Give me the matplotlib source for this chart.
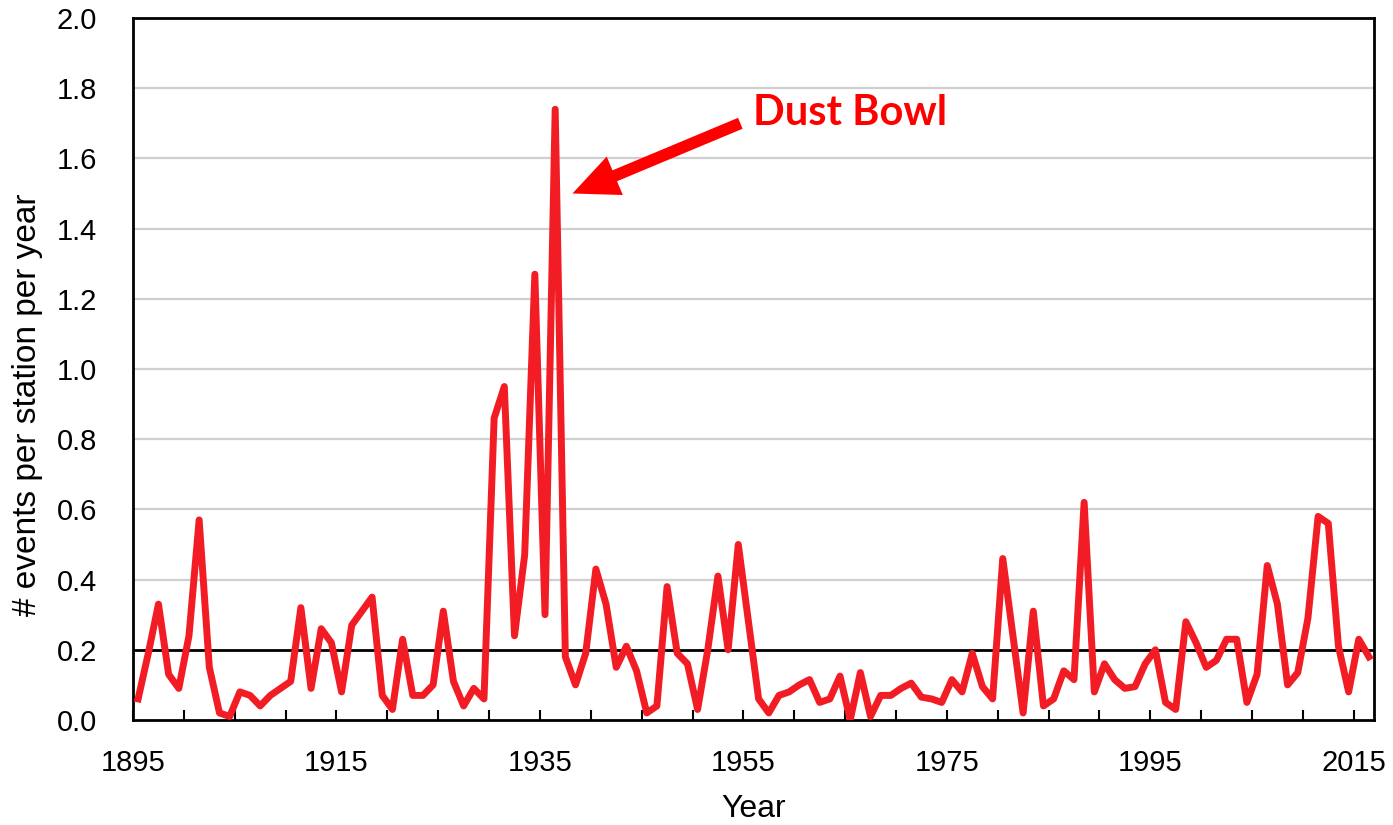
import matplotlib.pyplot as plt

years = list(range(1895, 2017))
events = [
    0.06, 0.19, 0.33, 0.13, 0.09, 0.24, 0.57, 0.15, 0.02, 0.01,   # 1895-1904
    0.08, 0.07, 0.04, 0.07, 0.09, 0.11, 0.32, 0.09, 0.26, 0.22,   # 1905-1914
    0.08, 0.27, 0.31, 0.35, 0.07, 0.03, 0.23, 0.07, 0.07, 0.10,   # 1915-1924
    0.31, 0.11, 0.04, 0.09, 0.06, 0.86, 0.95, 0.24, 0.47, 1.27,   # 1925-1934
    0.30, 1.74, 0.18, 0.10, 0.19, 0.43, 0.33, 0.15, 0.21, 0.14,   # 1935-1944
    0.02, 0.04, 0.38, 0.19, 0.16, 0.03, 0.20, 0.41, 0.20, 0.50,   # 1945-1954
    0.28, 0.06, 0.02, 0.07, 0.08, 0.10, 0.115, 0.05, 0.06, 0.125, # 1955-1964
    0.00, 0.135, 0.01, 0.07, 0.07, 0.09, 0.105, 0.065, 0.06, 0.05, # 1965-1974
    0.115, 0.08, 0.19, 0.095, 0.06, 0.46, 0.24, 0.02, 0.31, 0.04, # 1975-1984
    0.06, 0.14, 0.115, 0.62, 0.08, 0.16, 0.115, 0.09, 0.095, 0.16, # 1985-1994
    0.20, 0.05, 0.03, 0.28, 0.22, 0.15, 0.17, 0.23, 0.23, 0.05,   # 1995-2004
    0.13, 0.44, 0.33, 0.10, 0.135, 0.29, 0.58, 0.56, 0.21, 0.08,  # 2005-2014
    0.23, 0.18,                                                   # 2015-2016
]
label_years = [1895, 1915, 1935, 1955, 1975, 1995, 2015]
threshold = 0.2

plt.rcParams['font.family'] = ['Liberation Sans', 'DejaVu Sans']

fig = plt.figure(figsize=(13.93, 8.25), dpi=100)
ax = fig.add_axes([0.0955, 0.1273, 0.8909, 0.8509])

# points sit in the middle of each year
x = [y + 0.5 for y in years]

for v in [0.4, 0.6, 0.8, 1.0, 1.2, 1.4, 1.6, 1.8]:
    ax.axhline(v, color='#cfcfcf', lw=1.6, zorder=1)
ax.axhline(threshold, color='black', lw=2.0, zorder=2)

ax.plot(x, events, color='#f21d24', lw=5.0, solid_joinstyle='round', zorder=3)

ax.set_xlim(1895, 2017)
ax.set_ylim(0, 2.0)
ax.set_yticks([i / 10 for i in range(0, 21, 2)])
ax.set_yticklabels([f'{i / 10:.1f}' for i in range(0, 21, 2)])
ax.set_xticks(label_years)
ax.set_xticks(range(1895, 2017, 5), minor=True)

ax.tick_params(axis='y', length=0, pad=26, labelsize=21)
ax.tick_params(axis='x', which='both', direction='in', length=7, width=1.5,
               pad=21, labelsize=21)

for s in ax.spines.values():
    s.set_linewidth(2.0)
    s.set_color('black')

ax.set_xlabel('Year', fontsize=23)
ax.xaxis.set_label_coords(0.5, -0.105)
ax.set_ylabel('# events per station per year', fontsize=24)
ax.yaxis.set_label_coords(-0.0725, 0.449)

ax.annotate('', xy=(1938.2, 1.50), xytext=(1954.7, 1.70),
            arrowprops=dict(arrowstyle='simple,head_length=3.3,head_width=3.0,tail_width=0.85',
                            mutation_scale=10, lw=0, color='red',
                            shrinkA=0, shrinkB=0))
ax.text(1955.9, 1.73, 'Dust Bowl', color='red', fontsize=30,
        fontweight='bold', family=['Lato', 'DejaVu Sans'], va='center', ha='left')

plt.savefig('out.png', dpi=100)
